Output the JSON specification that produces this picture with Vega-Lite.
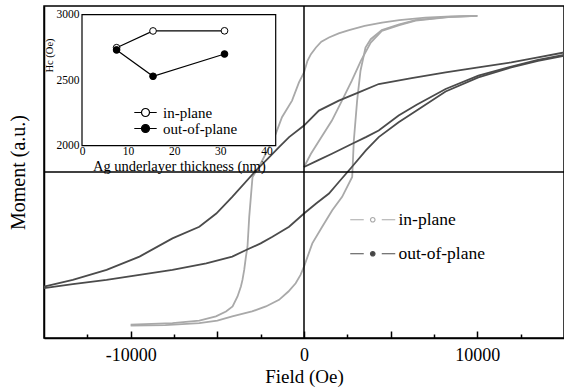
{
  "$schema": "https://vega.github.io/schema/vega-lite/v6.json",
  "width": 520,
  "height": 332,
  "autosize": {"type": "none"},
  "padding": {"left": 44, "top": 6, "right": 0, "bottom": 50},
  "background": "white",
  "config": {
    "view": {"stroke": "black", "strokeWidth": 1.5},
    "font": "Liberation Serif",
    "axis": {"grid": false, "domainColor": "black", "tickColor": "black", "labelColor": "black", "titleColor": "black", "labelFont": "Liberation Serif", "titleFont": "Liberation Serif", "titleFontWeight": "normal"},
    "legend": {"labelFont": "Liberation Serif", "labelColor": "black"}
  },
  "datasets": {
    "loops": [
      {"s": "in-plane", "b": "d", "i": 0, "H": 10000, "M": 0.94},
      {"s": "in-plane", "b": "d", "i": 1, "H": 8500, "M": 0.937},
      {"s": "in-plane", "b": "d", "i": 2, "H": 7000, "M": 0.93},
      {"s": "in-plane", "b": "d", "i": 3, "H": 5500, "M": 0.915},
      {"s": "in-plane", "b": "d", "i": 4, "H": 4500, "M": 0.9},
      {"s": "in-plane", "b": "d", "i": 5, "H": 3500, "M": 0.88},
      {"s": "in-plane", "b": "d", "i": 6, "H": 2600, "M": 0.855},
      {"s": "in-plane", "b": "d", "i": 7, "H": 2000, "M": 0.835},
      {"s": "in-plane", "b": "d", "i": 8, "H": 1440, "M": 0.81},
      {"s": "in-plane", "b": "d", "i": 9, "H": 1000, "M": 0.785},
      {"s": "in-plane", "b": "d", "i": 10, "H": 690, "M": 0.75},
      {"s": "in-plane", "b": "d", "i": 11, "H": 400, "M": 0.71},
      {"s": "in-plane", "b": "d", "i": 12, "H": 200, "M": 0.67},
      {"s": "in-plane", "b": "d", "i": 13, "H": 0, "M": 0.6},
      {"s": "in-plane", "b": "d", "i": 14, "H": -290, "M": 0.54},
      {"s": "in-plane", "b": "d", "i": 15, "H": -690, "M": 0.43},
      {"s": "in-plane", "b": "d", "i": 16, "H": -1270, "M": 0.33},
      {"s": "in-plane", "b": "d", "i": 17, "H": -1630, "M": 0.23},
      {"s": "in-plane", "b": "d", "i": 18, "H": -2010, "M": 0.15},
      {"s": "in-plane", "b": "d", "i": 19, "H": -2600, "M": 0.03},
      {"s": "in-plane", "b": "d", "i": 20, "H": -2970, "M": -0.03},
      {"s": "in-plane", "b": "d", "i": 21, "H": -3065, "M": -0.15},
      {"s": "in-plane", "b": "d", "i": 22, "H": -3160, "M": -0.27},
      {"s": "in-plane", "b": "d", "i": 23, "H": -3260, "M": -0.45},
      {"s": "in-plane", "b": "d", "i": 24, "H": -3350, "M": -0.51},
      {"s": "in-plane", "b": "d", "i": 25, "H": -3450, "M": -0.59},
      {"s": "in-plane", "b": "d", "i": 26, "H": -3550, "M": -0.65},
      {"s": "in-plane", "b": "d", "i": 27, "H": -3640, "M": -0.69},
      {"s": "in-plane", "b": "d", "i": 28, "H": -3835, "M": -0.75},
      {"s": "in-plane", "b": "d", "i": 29, "H": -4120, "M": -0.81},
      {"s": "in-plane", "b": "d", "i": 30, "H": -4500, "M": -0.84},
      {"s": "in-plane", "b": "d", "i": 31, "H": -5080, "M": -0.87},
      {"s": "in-plane", "b": "d", "i": 32, "H": -6040, "M": -0.895},
      {"s": "in-plane", "b": "d", "i": 33, "H": -7590, "M": -0.91},
      {"s": "in-plane", "b": "d", "i": 34, "H": -10000, "M": -0.92},
      {"s": "in-plane", "b": "a", "i": 0, "H": -10000, "M": -0.925},
      {"s": "in-plane", "b": "a", "i": 1, "H": -8000, "M": -0.922},
      {"s": "in-plane", "b": "a", "i": 2, "H": -6040, "M": -0.91},
      {"s": "in-plane", "b": "a", "i": 3, "H": -5000, "M": -0.895},
      {"s": "in-plane", "b": "a", "i": 4, "H": -4140, "M": -0.87},
      {"s": "in-plane", "b": "a", "i": 5, "H": -3000, "M": -0.84},
      {"s": "in-plane", "b": "a", "i": 6, "H": -2200, "M": -0.81},
      {"s": "in-plane", "b": "a", "i": 7, "H": -1440, "M": -0.77},
      {"s": "in-plane", "b": "a", "i": 8, "H": -900, "M": -0.72},
      {"s": "in-plane", "b": "a", "i": 9, "H": -480, "M": -0.67},
      {"s": "in-plane", "b": "a", "i": 10, "H": -200, "M": -0.62},
      {"s": "in-plane", "b": "a", "i": 11, "H": 0, "M": -0.57},
      {"s": "in-plane", "b": "a", "i": 12, "H": 480, "M": -0.43},
      {"s": "in-plane", "b": "a", "i": 13, "H": 1050, "M": -0.33},
      {"s": "in-plane", "b": "a", "i": 14, "H": 1630, "M": -0.23},
      {"s": "in-plane", "b": "a", "i": 15, "H": 2200, "M": -0.15},
      {"s": "in-plane", "b": "a", "i": 16, "H": 2780, "M": -0.03},
      {"s": "in-plane", "b": "a", "i": 17, "H": 2875, "M": 0.19},
      {"s": "in-plane", "b": "a", "i": 18, "H": 3065, "M": 0.43},
      {"s": "in-plane", "b": "a", "i": 19, "H": 3260, "M": 0.61},
      {"s": "in-plane", "b": "a", "i": 20, "H": 3548, "M": 0.75},
      {"s": "in-plane", "b": "a", "i": 21, "H": 3850, "M": 0.8},
      {"s": "in-plane", "b": "a", "i": 22, "H": 4490, "M": 0.855},
      {"s": "in-plane", "b": "a", "i": 23, "H": 5500, "M": 0.89},
      {"s": "in-plane", "b": "a", "i": 24, "H": 6440, "M": 0.915},
      {"s": "in-plane", "b": "a", "i": 25, "H": 8340, "M": 0.935},
      {"s": "in-plane", "b": "a", "i": 26, "H": 10000, "M": 0.94},
      {"s": "in-plane", "b": "v", "i": 0, "H": 0, "M": 0.03},
      {"s": "in-plane", "b": "v", "i": 1, "H": 400, "M": 0.11},
      {"s": "in-plane", "b": "v", "i": 2, "H": 880, "M": 0.19},
      {"s": "in-plane", "b": "v", "i": 3, "H": 1610, "M": 0.31},
      {"s": "in-plane", "b": "v", "i": 4, "H": 2190, "M": 0.43},
      {"s": "in-plane", "b": "v", "i": 5, "H": 2760, "M": 0.55},
      {"s": "in-plane", "b": "v", "i": 6, "H": 3280, "M": 0.67},
      {"s": "in-plane", "b": "v", "i": 7, "H": 3850, "M": 0.78},
      {"s": "in-plane", "b": "v", "i": 8, "H": 4490, "M": 0.85},
      {"s": "in-plane", "b": "v", "i": 9, "H": 5500, "M": 0.885},
      {"s": "in-plane", "b": "v", "i": 10, "H": 6440, "M": 0.912},
      {"s": "in-plane", "b": "v", "i": 11, "H": 8340, "M": 0.933},
      {"s": "in-plane", "b": "v", "i": 12, "H": 10000, "M": 0.94},
      {"s": "out-of-plane", "b": "d", "i": 0, "H": 15000, "M": 0.72},
      {"s": "out-of-plane", "b": "d", "i": 1, "H": 13500, "M": 0.69},
      {"s": "out-of-plane", "b": "d", "i": 2, "H": 11960, "M": 0.66},
      {"s": "out-of-plane", "b": "d", "i": 3, "H": 10060, "M": 0.63},
      {"s": "out-of-plane", "b": "d", "i": 4, "H": 8170, "M": 0.6},
      {"s": "out-of-plane", "b": "d", "i": 5, "H": 6210, "M": 0.565},
      {"s": "out-of-plane", "b": "d", "i": 6, "H": 4310, "M": 0.53},
      {"s": "out-of-plane", "b": "d", "i": 7, "H": 3160, "M": 0.48},
      {"s": "out-of-plane", "b": "d", "i": 8, "H": 2010, "M": 0.43},
      {"s": "out-of-plane", "b": "d", "i": 9, "H": 860, "M": 0.37},
      {"s": "out-of-plane", "b": "d", "i": 10, "H": 0, "M": 0.28},
      {"s": "out-of-plane", "b": "d", "i": 11, "H": -860, "M": 0.21},
      {"s": "out-of-plane", "b": "d", "i": 12, "H": -1440, "M": 0.15},
      {"s": "out-of-plane", "b": "d", "i": 13, "H": -2000, "M": 0.09},
      {"s": "out-of-plane", "b": "d", "i": 14, "H": -2760, "M": 0.01},
      {"s": "out-of-plane", "b": "d", "i": 15, "H": -4140, "M": -0.15},
      {"s": "out-of-plane", "b": "d", "i": 16, "H": -5060, "M": -0.25},
      {"s": "out-of-plane", "b": "d", "i": 17, "H": -6040, "M": -0.33},
      {"s": "out-of-plane", "b": "d", "i": 18, "H": -7590, "M": -0.4},
      {"s": "out-of-plane", "b": "d", "i": 19, "H": -9490, "M": -0.51},
      {"s": "out-of-plane", "b": "d", "i": 20, "H": -11390, "M": -0.59},
      {"s": "out-of-plane", "b": "d", "i": 21, "H": -13340, "M": -0.65},
      {"s": "out-of-plane", "b": "d", "i": 22, "H": -15000, "M": -0.69},
      {"s": "out-of-plane", "b": "a", "i": 0, "H": -15000, "M": -0.7},
      {"s": "out-of-plane", "b": "a", "i": 1, "H": -13340, "M": -0.675},
      {"s": "out-of-plane", "b": "a", "i": 2, "H": -11390, "M": -0.65},
      {"s": "out-of-plane", "b": "a", "i": 3, "H": -9490, "M": -0.62},
      {"s": "out-of-plane", "b": "a", "i": 4, "H": -7590, "M": -0.59},
      {"s": "out-of-plane", "b": "a", "i": 5, "H": -5640, "M": -0.55},
      {"s": "out-of-plane", "b": "a", "i": 6, "H": -4140, "M": -0.51},
      {"s": "out-of-plane", "b": "a", "i": 7, "H": -3340, "M": -0.47},
      {"s": "out-of-plane", "b": "a", "i": 8, "H": -2500, "M": -0.43},
      {"s": "out-of-plane", "b": "a", "i": 9, "H": -1820, "M": -0.39},
      {"s": "out-of-plane", "b": "a", "i": 10, "H": -860, "M": -0.33},
      {"s": "out-of-plane", "b": "a", "i": 11, "H": 0, "M": -0.25},
      {"s": "out-of-plane", "b": "a", "i": 12, "H": 700, "M": -0.19},
      {"s": "out-of-plane", "b": "a", "i": 13, "H": 1440, "M": -0.13},
      {"s": "out-of-plane", "b": "a", "i": 14, "H": 2010, "M": -0.06},
      {"s": "out-of-plane", "b": "a", "i": 15, "H": 2760, "M": 0.03},
      {"s": "out-of-plane", "b": "a", "i": 16, "H": 3570, "M": 0.13},
      {"s": "out-of-plane", "b": "a", "i": 17, "H": 4310, "M": 0.21},
      {"s": "out-of-plane", "b": "a", "i": 18, "H": 5460, "M": 0.3},
      {"s": "out-of-plane", "b": "a", "i": 19, "H": 6500, "M": 0.37},
      {"s": "out-of-plane", "b": "a", "i": 20, "H": 8170, "M": 0.485},
      {"s": "out-of-plane", "b": "a", "i": 21, "H": 10060, "M": 0.57},
      {"s": "out-of-plane", "b": "a", "i": 22, "H": 11960, "M": 0.63},
      {"s": "out-of-plane", "b": "a", "i": 23, "H": 13500, "M": 0.67},
      {"s": "out-of-plane", "b": "a", "i": 24, "H": 15000, "M": 0.7},
      {"s": "out-of-plane", "b": "v", "i": 0, "H": 0, "M": 0.03},
      {"s": "out-of-plane", "b": "v", "i": 1, "H": 800, "M": 0.07},
      {"s": "out-of-plane", "b": "v", "i": 2, "H": 1610, "M": 0.11},
      {"s": "out-of-plane", "b": "v", "i": 3, "H": 2780, "M": 0.17},
      {"s": "out-of-plane", "b": "v", "i": 4, "H": 3570, "M": 0.21},
      {"s": "out-of-plane", "b": "v", "i": 5, "H": 4310, "M": 0.25},
      {"s": "out-of-plane", "b": "v", "i": 6, "H": 5460, "M": 0.34},
      {"s": "out-of-plane", "b": "v", "i": 7, "H": 6500, "M": 0.405},
      {"s": "out-of-plane", "b": "v", "i": 8, "H": 8170, "M": 0.5},
      {"s": "out-of-plane", "b": "v", "i": 9, "H": 10060, "M": 0.58},
      {"s": "out-of-plane", "b": "v", "i": 10, "H": 11960, "M": 0.635},
      {"s": "out-of-plane", "b": "v", "i": 11, "H": 13500, "M": 0.675},
      {"s": "out-of-plane", "b": "v", "i": 12, "H": 15000, "M": 0.705}
    ],
    "hc": [
      {"type": "in-plane", "t": 7.5, "Hc": 2748},
      {"type": "in-plane", "t": 15.4, "Hc": 2876},
      {"type": "in-plane", "t": 30.9, "Hc": 2877},
      {"type": "out-of-plane", "t": 7.5, "Hc": 2731},
      {"type": "out-of-plane", "t": 15.4, "Hc": 2530},
      {"type": "out-of-plane", "t": 30.9, "Hc": 2700}
    ]
  },
  "layer": [
    {
      "layer": [
        {
          "data": {"name": "loops"},
          "mark": {"type": "line", "strokeWidth": 1.8},
          "encoding": {
            "x": {
              "field": "H", "type": "quantitative",
              "scale": {"domain": [-15000, 15000], "nice": false, "zero": false},
              "axis": {
                "title": "Field (Oe)", "titleFontSize": 19, "titlePadding": 0,
                "values": [-12500, -10000, -7500, -5000, -2500, 0, 2500, 5000, 7500, 10000, 12500],
                "labelExpr": "datum.value % 10000 === 0 ? '' + datum.value : ''",
                "labelFontSize": 18, "labelPadding": 15, "labelOverlap": false, "labelFlush": false,
                "tickSize": {"condition": {"test": "datum.value % 5000 === 0", "value": -7}, "value": -4},
                "tickWidth": 1.5, "domainWidth": 1.5
              }
            },
            "y": {
              "field": "M", "type": "quantitative",
              "scale": {"domain": [-1, 1], "nice": false},
              "axis": {"title": "Moment (a.u.)", "titleFontSize": 20, "titlePadding": 16, "labels": false, "ticks": false, "domainWidth": 1.5}
            },
            "color": {
              "field": "s", "type": "nominal",
              "scale": {"domain": ["in-plane", "out-of-plane"], "range": ["#a9a9a9", "#4b4b4b"]},
              "legend": {
                "orient": "none", "legendX": 320, "legendY": 205, "title": null,
                "symbolType": "M-4.5,0H-1.8M1.8,0H4.5M-0.45,0A0.45,0.45 0 1 1 0.45,0A0.45,0.45 0 1 1 -0.45,0",
                "symbolSize": 100, "symbolStrokeWidth": 1.2,
                "labelFontSize": 17.5, "labelOffset": 17, "rowPadding": 15, "padding": 0,
                "encode": {"symbols": {"update": {
                  "stroke": {"value": "#111"},
                  "fill": {"signal": "datum.value === 'in-plane' ? '#ffffff' : '#444444'"}
                }}}
              }
            },
            "detail": {"field": "b"},
            "order": {"field": "i", "type": "quantitative"}
          }
        },
        {
          "data": {"values": [{"H": 0}]},
          "mark": {"type": "rule", "color": "black", "strokeWidth": 1.5},
          "encoding": {"x": {"field": "H", "type": "quantitative"}}
        },
        {
          "data": {"values": [{"M": 0}]},
          "mark": {"type": "rule", "color": "black", "strokeWidth": 1.5},
          "encoding": {"y": {"field": "M", "type": "quantitative"}}
        }
      ]
    },
    {
      "layer": [
        {
          "data": {"values": [{"t": 0, "t2": 42, "Hc": 2000, "Hc2": 3000}]},
          "mark": {"type": "rect", "fill": "white", "stroke": "black", "strokeWidth": 1.2},
          "encoding": {
            "x": {
              "field": "t", "type": "quantitative",
              "scale": {"domain": [0, 42], "range": [38, 231.7], "nice": false, "zero": false},
              "axis": {
                "orient": "bottom", "offset": -192.3, "title": "Ag underlayer thickness (nm)",
                "titleFontSize": 14.5, "titlePadding": 2, "values": [0, 10, 20, 30, 40],
                "labelFontSize": 11.5, "ticks": false, "domain": false, "labelPadding": 0,
                "labelFlush": false, "labelOverlap": false, "zindex": 1
              }
            },
            "x2": {"field": "t2"},
            "y": {
              "field": "Hc", "type": "quantitative",
              "scale": {"domain": [2000, 3000], "range": [139.7, 8.7], "nice": false, "zero": false},
              "axis": {
                "orient": "left", "offset": -38, "title": "Hc (Oe)", "titleFontSize": 10.5,
                "titleX": -28, "titleY": 49, "titleAlign": "center", "titleAngle": -90,
                "values": [2000, 2500, 3000], "format": "d",
                "labelFontSize": 11.5, "ticks": false, "domain": false, "labelPadding": 3,
                "labelFlush": false, "labelOverlap": false, "zindex": 1
              }
            },
            "y2": {"field": "Hc2"}
          }
        },
        {
          "data": {"name": "hc"},
          "mark": {"type": "line", "color": "black", "strokeWidth": 1.2},
          "encoding": {
            "x": {"field": "t", "type": "quantitative"},
            "y": {"field": "Hc", "type": "quantitative"},
            "detail": {"field": "type"}
          }
        },
        {
          "data": {"name": "hc"},
          "mark": {"type": "point", "filled": true, "stroke": "black", "strokeWidth": 1, "size": 45, "opacity": 1},
          "encoding": {
            "x": {"field": "t", "type": "quantitative"},
            "y": {"field": "Hc", "type": "quantitative"},
            "fill": {
              "field": "type", "type": "nominal",
              "scale": {"domain": ["out-of-plane", "in-plane"], "range": ["black", "white"]},
              "legend": {
                "orient": "none", "legendX": 94, "legendY": 99, "title": null,
                "values": ["in-plane", "out-of-plane"],
                "symbolType": "M-2.8,0H-1M1,0H2.8M-1,0A1,1 0 1 1 1,0A1,1 0 1 1 -1,0",
                "symbolSize": 64, "symbolStrokeWidth": 1.2,
                "labelFontSize": 15, "labelOffset": 10, "rowPadding": 0, "padding": 0,
                "encode": {"symbols": {"update": {"stroke": {"value": "black"}}}}
              }
            }
          }
        }
      ]
    }
  ],
  "resolve": {"scale": {"x": "independent", "y": "independent"}, "axis": {"x": "independent", "y": "independent"}}
}
